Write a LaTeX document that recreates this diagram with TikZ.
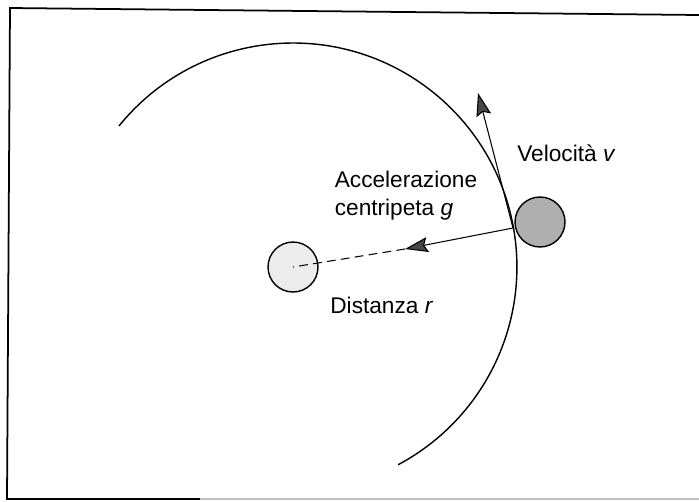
\documentclass[tikz,border=0pt]{standalone}
\usepackage{fontspec}
\setmainfont{Liberation Sans}
\usepackage{tikz}
\usetikzlibrary{arrows.meta,positioning,calc}
\usepackage{xcolor}
\definecolor{sungray}{RGB}{236,236,236}
\definecolor{planetgray}{RGB}{175,175,175}
\definecolor{tipgray}{RGB}{70,70,70}
\tikzset{
  body/.style={circle,draw=black,line width=0.8pt,minimum size=1cm,inner sep=0pt},
  bodyS/.style={body,fill=sungray},
  bodyP/.style={body,fill=planetgray},
  vec/.style={-{Stealth[length=0.46cm,width=0.3cm,inset=0.07cm,fill=tipgray]},line width=0.6pt},
  orb/.style={line width=0.8pt},
  lbl/.style={font=\fontsize{12.9}{16}\selectfont,inner sep=0pt},
}

\begin{document}
\begin{tikzpicture}[x=0.02cm,y=0.02cm]
    \useasboundingbox (0,0) rectangle (699,-501);
    % frame
    \draw[line width=1pt] (699,-15) -- (10,-8) -- (7,-499) -- (200,-499);
    \draw[line width=0.6pt,black!25] (200,-499) -- (699,-499);
    % bodies
    \node[bodyS] (sun) at (293,-267) {};
    \node[bodyP] (planet) at (540,-222) {};
    \coordinate (contact) at (513,-228);
    % orbit
    \draw[orb] (sun.center) ++(141:224) arc[start angle=141,end angle=-62,radius=4.48cm];
    % vectors
    \coordinate (vtip) at (478,-93);
    \coordinate (gtip) at (405,-249);
    \draw[vec] (contact) -- (vtip);
    \draw[vec] (contact) -- (gtip);
    \draw[line width=0.6pt,dash pattern=on 5pt off 3pt] (gtip) -- (sun.center);
    % labels
    \node[lbl,anchor=west] (vel) at (517,-153) {Velocità \textit{v}};
    \node[lbl,align=left] (acc) at (406,-196) {Accelerazione\\centripeta \textit{g}};
    \node[lbl,anchor=west] (dist) at (330,-305) {Distanza \textit{r}};
  \end{tikzpicture}
\end{document}
